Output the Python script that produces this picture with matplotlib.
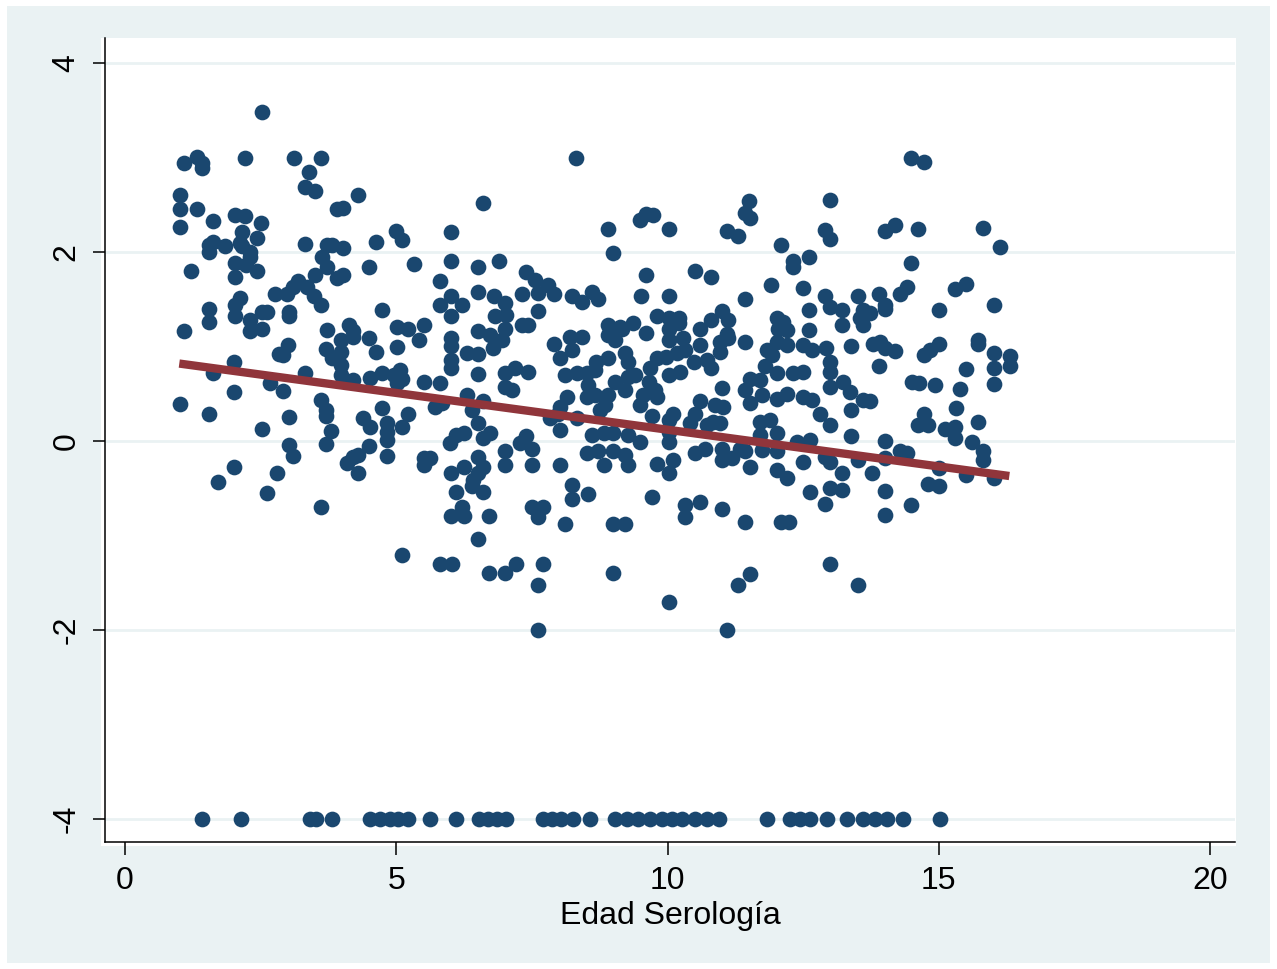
import matplotlib
matplotlib.use('Agg')
import matplotlib.pyplot as plt
from matplotlib.patches import Rectangle

plt.rcParams['font.family'] = ['Liberation Sans', 'DejaVu Sans']
plt.rcParams['axes.unicode_minus'] = False

# (edad, residuo), grouped by region (left to right)
pts_a = [(2.52, 3.48), (1.09, 2.94), (1.33, 3.01), (1.42, 2.94), (1.42, 2.89), (2.22, 3.00),
         (3.11, 3.00), (3.62, 3.00), (3.40, 2.85), (3.31, 2.69), (3.51, 2.65), (4.30, 2.60),
         (1.01, 2.60), (1.01, 2.46), (1.33, 2.46), (1.01, 2.26), (1.62, 2.33), (2.02, 2.39),
         (2.22, 2.38), (2.51, 2.31), (3.90, 2.46), (4.01, 2.47), (5.00, 2.22), (2.15, 2.21),
         (2.12, 2.10), (2.43, 2.15), (2.15, 2.06), (1.54, 2.07), (1.63, 2.11), (1.84, 2.06),
         (1.54, 2.00), (2.30, 2.00), (2.30, 1.95), (3.32, 2.09), (3.72, 2.07), (3.81, 2.07),
         (4.01, 2.04), (3.63, 1.95), (3.72, 1.84), (4.63, 2.11), (4.50, 1.84), (1.21, 1.80),
         (2.02, 1.88), (2.02, 1.74), (2.23, 1.86), (2.43, 1.80), (3.51, 1.76), (3.90, 1.73),
         (4.01, 1.76), (2.76, 1.56), (2.98, 1.56), (3.10, 1.63), (3.19, 1.69), (3.35, 1.63),
         (3.49, 1.54), (3.61, 1.44), (2.12, 1.51), (2.02, 1.44), (2.02, 1.32), (1.54, 1.40),
         (1.54, 1.26), (2.30, 1.28), (2.52, 1.37), (2.61, 1.37), (3.02, 1.37), (3.02, 1.32),
         (4.73, 1.39), (1.09, 1.16), (3.72, 1.17), (4.12, 1.23), (4.20, 1.16), (5.01, 1.21)]

pts_b = [(2.30, 1.16), (2.52, 1.19), (2.83, 0.92), (3.01, 1.02), (2.92, 0.91), (3.99, 1.07),
         (4.21, 1.10), (3.71, 0.97), (3.81, 0.88), (3.99, 0.94), (3.99, 0.80), (3.99, 0.70),
         (4.50, 1.09), (4.63, 0.94), (5.01, 1.00), (4.52, 0.67), (4.73, 0.72), (4.95, 0.70),
         (5.01, 0.61), (4.21, 0.65), (2.01, 0.84), (1.63, 0.72), (3.32, 0.72), (2.67, 0.61),
         (2.91, 0.53), (2.01, 0.52), (1.01, 0.39), (1.54, 0.29), (3.61, 0.43), (3.71, 0.33),
         (3.71, 0.26), (4.73, 0.35), (4.39, 0.24), (4.52, 0.15), (4.82, 0.19), (4.82, 0.10),
         (4.82, 0.01), (3.02, 0.25), (2.52, 0.13), (3.80, 0.11), (3.71, -0.03), (4.50, -0.05),
         (4.82, -0.16), (3.02, -0.04), (3.10, -0.16), (4.09, -0.23), (4.21, -0.17), (4.30, -0.15),
         (4.30, -0.34), (2.01, -0.28), (1.72, -0.43), (2.81, -0.34), (2.61, -0.55), (3.61, -0.70)]

pts_c = [(8.31, 3.00), (6.60, 2.52), (5.11, 2.13), (6.01, 2.21), (8.91, 2.24), (9.00, 1.99),
         (5.33, 1.87), (6.01, 1.90), (6.51, 1.84), (6.90, 1.90), (5.81, 1.69), (6.01, 1.54),
         (6.51, 1.58), (6.81, 1.54), (7.00, 1.46), (7.40, 1.79), (7.56, 1.70), (7.80, 1.65),
         (7.91, 1.56), (7.61, 1.57), (7.31, 1.56), (8.23, 1.54), (8.42, 1.47), (8.60, 1.58),
         (8.71, 1.50), (5.81, 1.44), (6.21, 1.44), (6.01, 1.32), (6.82, 1.32), (7.02, 1.33),
         (7.61, 1.38), (7.31, 1.23), (7.43, 1.23), (5.22, 1.19), (5.52, 1.23), (7.00, 1.19),
         (6.51, 1.16), (8.91, 1.23), (9.12, 1.21), (9.37, 1.25)]

pts_d = [(5.41, 1.07), (6.01, 1.09), (6.01, 1.01), (6.73, 1.12), (6.94, 1.07), (6.79, 0.98),
         (6.51, 0.92), (6.30, 0.93), (7.91, 1.03), (8.02, 0.88), (8.20, 1.10), (8.42, 1.10),
         (8.23, 0.96), (8.91, 1.12), (9.03, 1.07), (9.16, 1.19), (6.01, 0.86), (6.01, 0.77),
         (6.51, 0.71), (7.00, 0.72), (7.19, 0.77), (7.43, 0.73), (7.00, 0.57), (7.13, 0.54),
         (5.07, 0.75), (5.10, 0.66), (5.52, 0.63), (5.81, 0.61), (8.69, 0.84), (8.91, 0.88),
         (9.22, 0.93), (9.28, 0.84), (8.11, 0.70), (8.33, 0.72), (8.51, 0.72), (8.66, 0.75),
         (8.54, 0.59), (8.66, 0.49), (8.51, 0.47), (9.03, 0.63), (9.28, 0.68), (9.22, 0.54),
         (8.91, 0.49), (8.85, 0.38), (8.76, 0.33), (8.14, 0.47), (8.02, 0.36), (7.99, 0.29),
         (8.33, 0.24), (7.83, 0.24), (8.02, 0.12), (8.60, 0.06), (8.82, 0.08), (9.00, 0.08),
         (9.28, 0.06), (6.30, 0.49), (6.39, 0.33), (6.60, 0.42), (6.51, 0.19), (6.73, 0.08),
         (6.60, 0.03), (5.22, 0.29), (5.10, 0.15), (5.71, 0.36), (5.84, 0.40), (5.99, -0.02),
         (6.11, 0.06), (6.24, 0.08), (7.28, -0.02), (7.40, 0.05), (7.50, -0.08), (7.00, -0.11),
         (5.52, -0.18), (5.62, -0.18), (5.52, -0.25), (6.51, -0.17), (6.60, -0.27), (6.51, -0.34),
         (6.42, -0.41), (6.39, -0.48), (6.60, -0.54), (6.24, -0.27), (6.01, -0.34), (6.11, -0.54),
         (7.00, -0.25), (7.50, -0.25), (8.02, -0.25), (8.51, -0.13), (8.72, -0.11), (9.00, -0.11),
         (9.22, -0.15), (9.28, -0.25), (8.82, -0.25), (8.23, -0.47), (8.23, -0.61), (8.53, -0.56),
         (6.01, -0.79), (6.21, -0.70), (6.24, -0.79), (6.70, -0.79), (6.51, -1.04), (7.50, -0.70),
         (7.71, -0.70), (7.61, -0.80), (8.11, -0.88), (9.00, -0.88), (9.22, -0.88), (5.11, -1.21),
         (5.81, -1.30), (6.02, -1.30), (6.70, -1.40), (7.00, -1.40), (7.20, -1.30), (7.71, -1.30),
         (7.61, -1.52), (9.00, -1.40), (7.61, -2.00)]

pts_e = [(11.51, 2.54), (11.43, 2.41), (11.52, 2.36), (13.00, 2.55), (9.49, 2.34), (9.60, 2.40),
         (9.73, 2.39), (10.02, 2.24), (11.10, 2.22), (11.29, 2.17), (12.90, 2.23), (13.00, 2.14),
         (12.10, 2.07), (12.31, 1.90), (12.31, 1.84), (12.61, 1.95), (10.51, 1.80), (10.80, 1.74),
         (9.60, 1.76), (11.91, 1.65), (12.50, 1.62), (9.51, 1.53), (10.02, 1.53), (11.43, 1.50),
         (12.90, 1.54), (13.00, 1.42), (13.21, 1.39), (13.52, 1.54), (13.61, 1.39), (13.55, 1.30),
         (12.61, 1.39), (13.21, 1.23), (9.80, 1.32), (10.02, 1.30), (10.22, 1.30), (10.02, 1.19),
         (10.22, 1.25), (10.60, 1.19), (10.81, 1.28), (11.00, 1.38), (11.11, 1.28), (12.01, 1.30),
         (12.13, 1.26), (12.04, 1.19), (12.20, 1.17), (12.61, 1.17), (9.60, 1.14), (11.09, 1.13),
         (13.61, 1.23)]

pts_f = [(10.02, 1.07), (10.29, 1.09), (10.60, 1.02), (10.97, 1.05), (11.12, 1.09), (10.97, 0.94),
         (11.43, 1.05), (12.01, 1.05), (12.20, 1.02), (11.83, 0.96), (11.92, 0.91), (12.50, 1.02),
         (12.66, 0.96), (12.93, 0.98), (13.00, 0.84), (13.00, 0.73), (13.39, 1.01), (9.40, 0.70),
         (9.68, 0.77), (9.80, 0.88), (9.98, 0.89), (10.17, 0.93), (10.32, 0.96), (10.48, 0.84),
         (10.72, 0.86), (10.81, 0.77), (10.23, 0.73), (10.02, 0.70), (9.65, 0.63), (9.77, 0.54),
         (9.55, 0.49), (9.80, 0.47), (9.49, 0.38), (11.00, 0.56), (10.88, 0.38), (11.03, 0.36),
         (10.97, 0.19), (10.84, 0.20), (10.60, 0.42), (10.51, 0.29), (10.41, 0.19), (10.72, 0.17),
         (10.11, 0.29), (10.02, 0.22), (9.71, 0.26), (9.49, -0.01), (10.02, -0.01), (10.02, 0.10),
         (9.80, -0.24), (10.11, -0.20), (10.02, -0.34), (10.51, -0.13), (10.69, -0.08), (11.00, -0.08),
         (11.00, -0.20), (11.18, -0.18), (11.34, -0.08), (11.43, -0.11), (11.52, -0.27), (11.43, 0.54),
         (11.52, 0.66), (11.52, 0.40), (11.70, 0.65), (11.74, 0.49), (12.01, 0.72), (12.01, 0.45),
         (12.20, 0.50), (12.32, 0.72), (12.50, 0.73), (11.80, 0.79), (12.50, 0.47), (12.66, 0.43),
         (12.81, 0.29), (13.00, 0.57), (13.00, 0.17), (13.24, 0.63), (13.36, 0.52), (13.39, 0.33),
         (13.61, 0.43), (13.39, 0.05), (11.70, 0.20), (11.89, 0.22), (12.01, 0.08), (11.70, 0.06),
         (11.74, -0.10), (12.01, -0.11), (12.38, -0.01), (12.63, 0.01), (12.90, -0.17), (13.00, -0.22),
         (12.50, -0.22), (12.01, -0.31), (12.20, -0.39), (13.21, -0.34), (13.00, -0.50), (13.21, -0.52),
         (12.63, -0.54), (12.90, -0.67), (13.52, -0.20), (9.71, -0.59), (10.32, -0.68), (10.32, -0.80),
         (10.60, -0.64), (11.00, -0.72), (11.43, -0.86), (12.10, -0.86), (12.23, -0.86), (13.00, -1.30),
         (11.52, -1.41), (11.29, -1.52), (13.52, -1.52), (10.02, -1.70), (11.10, -2.00)]

pts_g = [(14.49, 3.00), (14.72, 2.95), (14.01, 2.22), (14.19, 2.29), (14.62, 2.24), (15.81, 2.25),
         (16.12, 2.05), (14.49, 1.88), (13.90, 1.56), (14.01, 1.44), (14.01, 1.40), (14.29, 1.56),
         (14.41, 1.63), (15.30, 1.61), (15.51, 1.66), (15.00, 1.39), (16.02, 1.44), (13.73, 1.35)]

pts_h = [(13.79, 1.03), (13.92, 1.05), (14.01, 0.98), (14.19, 0.95), (13.90, 0.79), (14.72, 0.91),
         (14.84, 0.96), (15.01, 1.03), (15.72, 1.07), (15.72, 1.03), (16.02, 0.93), (16.02, 0.77),
         (16.31, 0.90), (16.31, 0.79), (15.51, 0.76), (16.02, 0.60), (15.40, 0.55), (14.50, 0.63),
         (14.64, 0.61), (14.93, 0.59), (13.73, 0.42), (15.31, 0.35), (14.72, 0.29), (14.62, 0.17),
         (14.81, 0.17), (15.12, 0.13), (15.30, 0.15), (15.30, 0.03), (15.72, 0.20), (14.01, 0.00),
         (15.61, -0.01), (15.82, -0.11), (15.82, -0.20), (14.29, -0.11), (14.41, -0.13), (14.01, -0.18),
         (13.77, -0.34), (15.00, -0.29), (15.51, -0.36), (16.02, -0.39), (14.81, -0.45), (15.01, -0.48),
         (14.01, -0.53), (14.49, -0.68), (14.01, -0.78)]

# points sitting on the -4 line
bottom_x = [1.42, 2.14, 3.41, 3.52, 3.82, 4.52, 4.70, 4.88, 5.03, 5.22, 5.62, 6.10, 6.53, 6.69,
            6.86, 7.03, 7.71, 7.87, 8.04, 8.26, 8.57, 9.03, 9.25, 9.46, 9.68, 9.90, 10.08, 10.27,
            10.51, 10.73, 10.94, 11.83, 12.26, 12.44, 12.63, 12.94, 13.31, 13.60, 13.82, 14.05,
            14.34, 15.02]
bottom_y = -4

# fitted line (lfit) endpoints
fit_x = [1.0, 16.3]
fit_y = [0.82, -0.37]

pts = pts_a + pts_b + pts_c + pts_d + pts_e + pts_f + pts_g + pts_h
xs = [p[0] for p in pts] + bottom_x
ys = [p[1] for p in pts] + [bottom_y] * len(bottom_x)

W, H = 1277, 969
fig = plt.figure(figsize=(W / 100, H / 100), dpi=100)
fig.patch.set_facecolor('white')
# stata-like outer background and white plot region
fig.patches.append(Rectangle((7 / W, 6 / H), (W - 14) / W, (H - 12) / H, transform=fig.transFigure,
                             facecolor='#EAF2F3', edgecolor='none', zorder=-3))
fig.patches.append(Rectangle((101 / W, (H - 846) / H), (1236 - 101) / W, (846 - 38) / H,
                             transform=fig.transFigure, facecolor='white', edgecolor='none', zorder=-2))

ax = fig.add_axes([105 / W, (H - 842) / H, 1130 / W, 804 / H])
ax.set_facecolor('white')

ax.scatter(xs, ys, s=128, color='#1A476F', linewidths=0, zorder=3)
ax.plot(fit_x, fit_y, color='#90353B', lw=6, solid_capstyle='butt', zorder=4)

ax.set_xlim(-0.369, 20.46)
ax.set_ylim(-4.243, 4.265)
ax.set_xticks([0, 5, 10, 15, 20])
ax.set_yticks([-4, -2, 0, 2, 4])
ax.yaxis.grid(True, color='#EAF2F3', lw=2)
ax.set_axisbelow(True)

for s in ['top', 'right']:
    ax.spines[s].set_visible(False)
for s in ['left', 'bottom']:
    ax.spines[s].set_linewidth(1.1)

ax.tick_params(length=9, width=1.1, labelsize=23, pad=8)
for lab in ax.get_yticklabels():
    lab.set_rotation(90)
    lab.set_va('center')

ax.set_xlabel('Edad Serología', fontsize=23, labelpad=4)

fig.savefig('out.png', dpi=100)
